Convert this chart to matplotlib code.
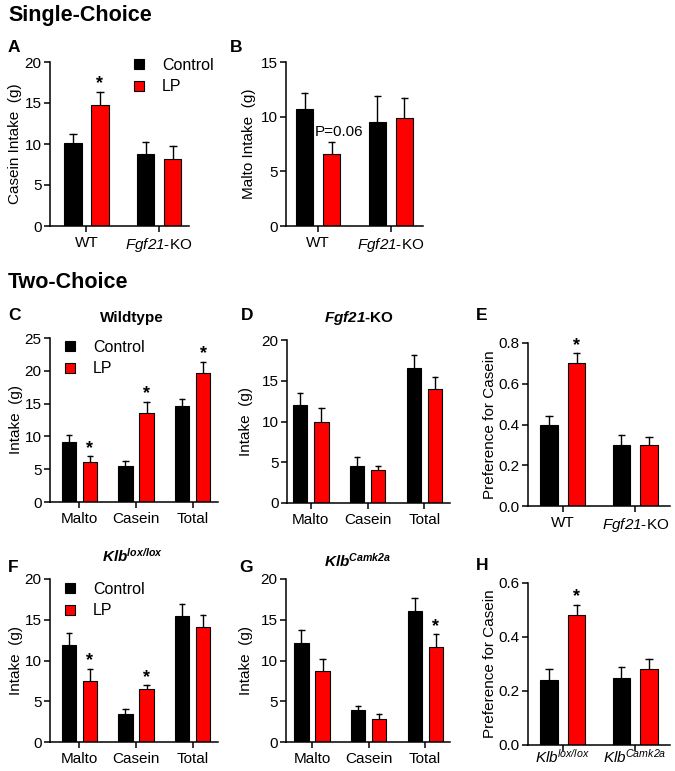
import matplotlib
matplotlib.use("Agg")
import matplotlib.pyplot as plt
from matplotlib.patches import Patch
import numpy as np

plt.rcParams['font.family'] = ['Liberation Sans', 'DejaVu Sans']
plt.rcParams['mathtext.fontset'] = 'custom'
plt.rcParams['mathtext.rm'] = 'Liberation Sans'
plt.rcParams['mathtext.it'] = 'Liberation Sans:italic'
plt.rcParams['mathtext.sf'] = 'Liberation Sans:italic'
plt.rcParams['mathtext.bf'] = 'Liberation Sans:bold'
plt.rcParams['mathtext.bfit'] = 'Liberation Sans:italic:bold'

# ---------------- data ----------------
groups_geno = ["WT", r"$\mathsf{Fgf21}$-KO"]
groups_diet = ["Malto", "Casein", "Total"]
groups_klb = [r"$\mathsf{Klb}^{\mathsf{lox/lox}}$", r"$\mathsf{Klb}^{\mathsf{Camk2a}}$"]
legend_labels = ["Control", "LP"]

a_ctrl = [10.1, 8.8]; a_ctrl_err = [1.1, 1.4]
a_lp = [14.8, 8.2]; a_lp_err = [1.6, 1.6]

b_ctrl = [10.7, 9.5]; b_ctrl_err = [1.5, 2.4]
b_lp = [6.6, 9.9]; b_lp_err = [1.1, 1.8]

c_ctrl = [9.2, 5.5, 14.7]; c_ctrl_err = [1.0, 0.8, 1.0]
c_lp = [6.1, 13.5, 19.7]; c_lp_err = [0.9, 1.8, 1.7]

d_ctrl = [12.0, 4.5, 16.6]; d_ctrl_err = [1.5, 1.1, 1.6]
d_lp = [10.0, 4.0, 14.0]; d_lp_err = [1.6, 0.6, 1.5]

e_ctrl = [0.40, 0.30]; e_ctrl_err = [0.04, 0.05]
e_lp = [0.70, 0.30]; e_lp_err = [0.05, 0.04]

f_ctrl = [11.9, 3.4, 15.4]; f_ctrl_err = [1.5, 0.6, 1.5]
f_lp = [7.5, 6.5, 14.1]; f_lp_err = [1.5, 0.5, 1.5]

g_ctrl = [12.2, 3.9, 16.1]; g_ctrl_err = [1.5, 0.5, 1.6]
g_lp = [8.7, 2.8, 11.6]; g_lp_err = [1.5, 0.6, 1.6]

h_ctrl = [0.24, 0.25]; h_ctrl_err = [0.04, 0.04]
h_lp = [0.48, 0.28]; h_lp_err = [0.04, 0.04]

# ---------------- figure ----------------
W, H = 675, 771
fig = plt.figure(figsize=(W / 100, H / 100), dpi=100)

RED = "#ff0000"
FS = 11


def make_axes(x0, x1, y0, y1):
    return fig.add_axes([x0 / W, 1 - y1 / H, (x1 - x0) / W, (y1 - y0) / H])


def panel(px, groups, ctrl, ctrl_err, lp, lp_err, ylim, yticks, yticklabels,
          ylabel, xlim, width, off, stars=(), label_px=None):
    ax = make_axes(*px)
    x = np.arange(len(groups))
    ax.bar(x - off, ctrl, width, color="black", edgecolor="black", linewidth=0.8, zorder=2)
    ax.bar(x + off, lp, width, color=RED, edgecolor="black", linewidth=0.8, zorder=2)
    for xs, v, e in ((x - off, ctrl, ctrl_err), (x + off, lp, lp_err)):
        for xi, vi, ei in zip(xs, v, e):
            ax.plot([xi, xi], [vi, vi + ei], color="black", lw=1.0, zorder=1)
            ax.plot([xi - width * 0.22, xi + width * 0.22], [vi + ei, vi + ei],
                    color="black", lw=1.0, zorder=1, solid_capstyle="butt")
    for i in stars:
        ax.text(x[i] + off, lp[i] + lp_err[i] - (ylim[1] - ylim[0]) * 0.005, "*",
                ha="center", va="bottom", fontsize=13, fontweight="bold")
    ax.set_xlim(*xlim)
    ax.set_ylim(*ylim)
    ax.set_yticks(yticks)
    ax.set_yticklabels(yticklabels, fontsize=FS)
    ax.set_xticks(x)
    ax.set_xticklabels(groups, fontsize=FS)
    ax.spines["top"].set_visible(False)
    ax.spines["right"].set_visible(False)
    for s in ("left", "bottom"):
        ax.spines[s].set_linewidth(1.1)
    ax.tick_params(axis="both", direction="out", length=4, width=1.1, pad=2)
    ax.tick_params(axis="x", pad=3)
    ax.set_ylabel(ylabel, fontsize=FS)
    if label_px is not None:
        ax.yaxis.set_label_coords((label_px - px[0]) / (px[1] - px[0]), 0.5)
    return ax


int_ticks20 = [0, 5, 10, 15, 20]

axA = panel((50, 189, 62, 226), groups_geno, a_ctrl, a_ctrl_err, a_lp, a_lp_err,
            (0, 20), int_ticks20, [str(t) for t in int_ticks20],
            "Casein Intake  (g)", (-0.5, 1.41), 0.24, 0.186, stars=[0], label_px=22)

axB = panel((286, 423, 62, 226), groups_geno, b_ctrl, b_ctrl_err, b_lp, b_lp_err,
            (0, 15), [0, 5, 10, 15], ["0", "5", "10", "15"],
            "Malto Intake  (g)", (-0.44, 1.44), 0.235, 0.186, label_px=256)
axB.text(0.29, 8.6, "P=0.06", ha="center", va="center", fontsize=FS)

axC = panel((50, 218, 338, 502), groups_diet, c_ctrl, c_ctrl_err, c_lp, c_lp_err,
            (0, 25), [0, 5, 10, 15, 20, 25], ["0", "5", "10", "15", "20", "25"],
            "Intake  (g)", (-0.52, 2.45), 0.25, 0.186, stars=[0, 1, 2], label_px=23)

axD = panel((287, 450, 340, 503), groups_diet, d_ctrl, d_ctrl_err, d_lp, d_lp_err,
            (0, 20), int_ticks20, [str(t) for t in int_ticks20],
            "Intake  (g)", (-0.42, 2.45), 0.25, 0.186, label_px=253)

axE = panel((528, 670, 343, 506), groups_geno, e_ctrl, e_ctrl_err, e_lp, e_lp_err,
            (0, 0.8), [0, 0.2, 0.4, 0.6, 0.8], ["0.0", "0.2", "0.4", "0.6", "0.8"],
            "Preference for Casein", (-0.48, 1.48), 0.235, 0.19, stars=[0], label_px=497)

axF = panel((50, 218, 579, 742), groups_diet, f_ctrl, f_ctrl_err, f_lp, f_lp_err,
            (0, 20), int_ticks20, [str(t) for t in int_ticks20],
            "Intake  (g)", (-0.52, 2.45), 0.25, 0.186, stars=[0, 1], label_px=23)

axG = panel((286, 450, 579, 742), groups_diet, g_ctrl, g_ctrl_err, g_lp, g_lp_err,
            (0, 20), int_ticks20, [str(t) for t in int_ticks20],
            "Intake  (g)", (-0.46, 2.44), 0.25, 0.186, stars=[2], label_px=253)

axH = panel((528, 670, 583, 745), groups_klb, h_ctrl, h_ctrl_err, h_lp, h_lp_err,
            (0, 0.6), [0, 0.2, 0.4, 0.6], ["0.0", "0.2", "0.4", "0.6"],
            "Preference for Casein", (-0.48, 1.48), 0.235, 0.19, stars=[0], label_px=497)
axH.tick_params(axis="x", pad=8.5)
for lbl in axH.get_xticklabels():
    lbl.set_verticalalignment("baseline")

# legends
handles = [Patch(facecolor="black", edgecolor="black", linewidth=0.8),
           Patch(facecolor=RED, edgecolor="black", linewidth=0.8)]


def add_legend(x_px, y_px):
    fig.legend(handles, legend_labels, loc="upper left",
               bbox_to_anchor=(x_px / W, 1 - y_px / H), frameon=False,
               fontsize=11.5, handlelength=0.6, handleheight=0.6,
               handletextpad=1.15, labelspacing=0.4, borderpad=0, borderaxespad=0)


add_legend(134, 58)
add_legend(65, 340)
add_legend(65, 582)

# section titles
fig.text(8 / W, 1 - 16 / H, "Single-Choice", fontsize=15.5, fontweight="bold", va="center")
fig.text(8 / W, 1 - 283 / H, "Two-Choice", fontsize=15.5, fontweight="bold", va="center")

# panel letters
for letter, xp, yp in [("A", 8, 47), ("B", 230, 47), ("C", 8, 316), ("D", 241, 316),
                       ("E", 476, 316), ("F", 8, 568), ("G", 239, 567), ("H", 476, 566)]:
    fig.text(xp / W, 1 - yp / H, letter, fontsize=12.5, fontweight="bold", va="center")

# panel subtitles
fig.text(132 / W, 1 - 318 / H, "Wildtype", fontsize=11, fontweight="bold", ha="center", va="center")
fig.text(359 / W, 1 - 318 / H, r"$\mathbfit{Fgf21}$-KO", fontsize=11, fontweight="bold",
         ha="center", va="center")
fig.text(132 / W, 1 - 556 / H, r"$\mathbfit{Klb}^{\mathbfit{lox/lox}}$", fontsize=11,
         ha="center", va="center")
fig.text(358 / W, 1 - 561 / H, r"$\mathbfit{Klb}^{\mathbfit{Camk2a}}$", fontsize=11,
         ha="center", va="center")

fig.savefig("out.png", dpi=100)
